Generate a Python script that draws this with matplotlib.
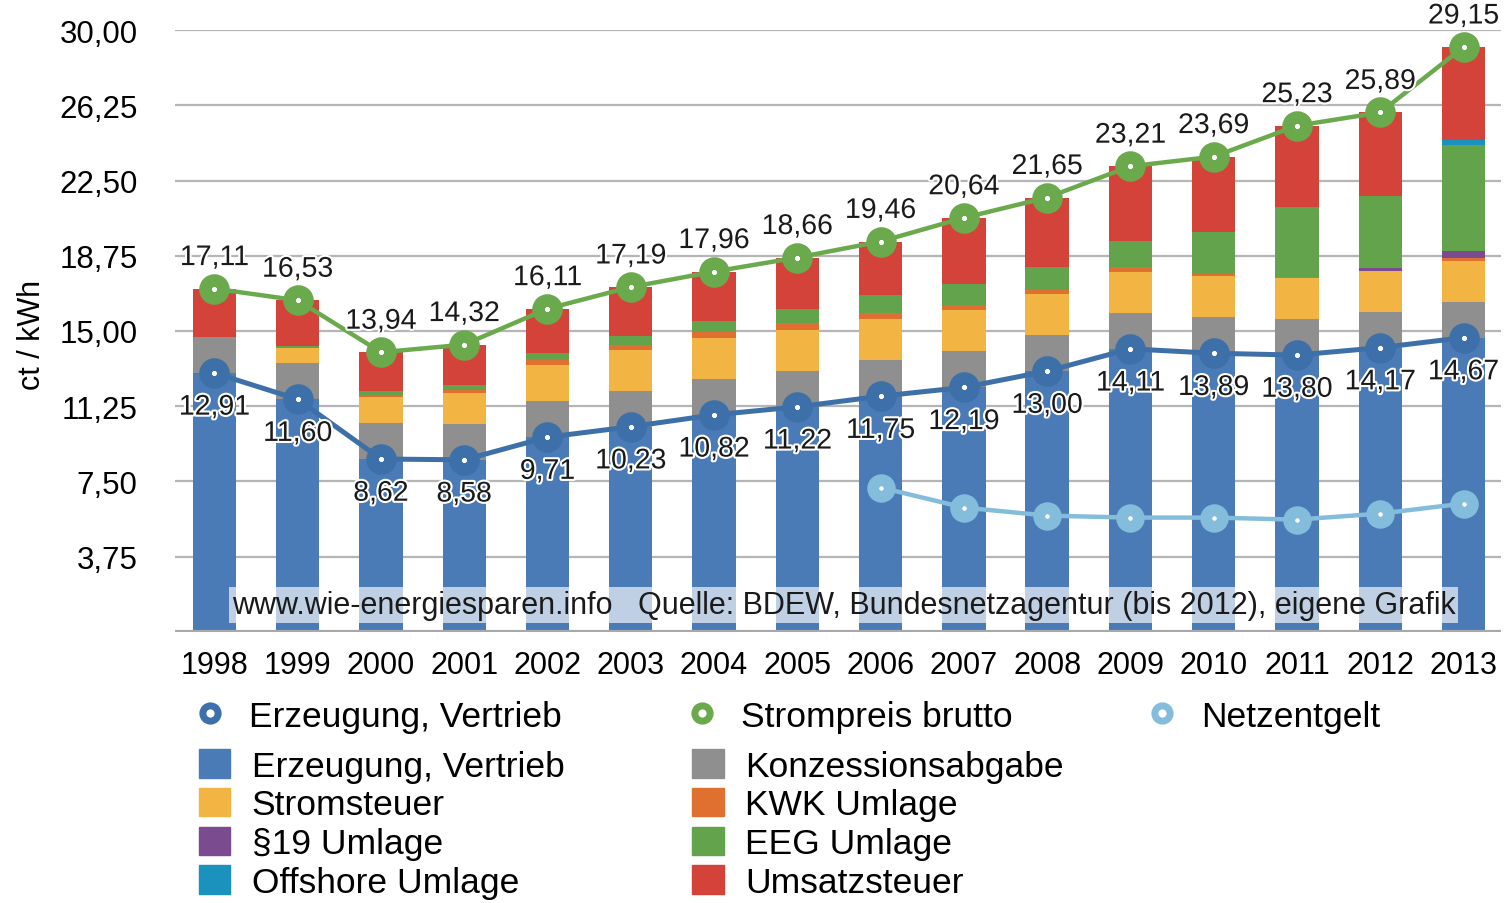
import numpy as np
import matplotlib
matplotlib.use("Agg")
import matplotlib.pyplot as plt
from matplotlib.lines import Line2D
from matplotlib.patches import Patch
import matplotlib.patheffects as pe

plt.rcParams['font.family'] = ['Liberation Sans', 'DejaVu Sans']

years = list(range(1998, 2014))

# Bestandteile des Strompreises (ct/kWh)
erzeugung = [12.91, 11.60, 8.62, 8.58, 9.71, 10.23, 10.82, 11.22, 11.75, 12.19, 13.00, 14.11, 13.89, 13.80, 14.17, 14.67]
konzession = [1.79] * 16
stromsteuer = [0.00, 0.77, 1.28, 1.53, 1.79, 2.05, 2.05, 2.05, 2.05, 2.05, 2.05, 2.05, 2.05, 2.05, 2.05, 2.05]
kwk = [0.00, 0.00, 0.13, 0.17, 0.25, 0.25, 0.31, 0.34, 0.31, 0.29, 0.19, 0.24, 0.13, 0.03, 0.002, 0.13]
par19 = [0, 0, 0, 0, 0, 0, 0, 0, 0, 0, 0, 0, 0, 0, 0.15, 0.33]
eeg = [0.00, 0.08, 0.20, 0.25, 0.35, 0.42, 0.51, 0.69, 0.88, 1.02, 1.16, 1.31, 2.05, 3.53, 3.59, 5.28]
offshore = [0] * 15 + [0.25]
umsatzsteuer = [2.41, 2.29, 1.92, 1.99, 2.22, 2.45, 2.48, 2.57, 2.68, 3.30, 3.46, 3.71, 3.78, 4.03, 4.14, 4.65]

strompreis = [17.11, 16.53, 13.94, 14.32, 16.11, 17.19, 17.96, 18.66, 19.46, 20.64, 21.65, 23.21, 23.69, 25.23, 25.89, 29.15]
netz_years = list(range(2006, 2014))
netzentgelt = [7.20, 6.20, 5.80, 5.70, 5.70, 5.60, 5.90, 6.40]

components = [
    ("Erzeugung, Vertrieb", erzeugung, "#4a7bb7"),
    ("Konzessionsabgabe", konzession, "#8f8f8f"),
    ("Stromsteuer", stromsteuer, "#f2b442"),
    ("KWK Umlage", kwk, "#e07030"),
    ("§19 Umlage", par19, "#7a4b8e"),
    ("EEG Umlage", eeg, "#63a34c"),
    ("Offshore Umlage", offshore, "#1b91bd"),
    ("Umsatzsteuer", umsatzsteuer, "#d3433a"),
]

c_line_blue = "#3d6fa8"
c_line_green = "#6aaa4c"
c_line_light = "#84bcdc"

fig = plt.figure(figsize=(15.04, 9.04), dpi=100)
ax = fig.add_axes([0.1165, 0.2998, 0.8815, 0.6659])

x = np.arange(len(years))
bottom = np.zeros(len(years))
for name, vals, col in components:
    vals = np.array(vals, dtype=float)
    ax.bar(x, vals, width=0.52, bottom=bottom, color=col, zorder=2, linewidth=0)
    bottom += vals

halo = [pe.withStroke(linewidth=3, foreground="white")]

# Linien
ax.plot(x, erzeugung, color=c_line_blue, lw=3.6, marker='o', ms=13, mew=9,
        mfc='white', mec=c_line_blue, zorder=4)
ax.plot(x, strompreis, color=c_line_green, lw=3.2, marker='o', ms=13, mew=9,
        mfc='white', mec=c_line_green, zorder=4)
xn = np.array([years.index(y) for y in netz_years])
ax.plot(xn, netzentgelt, color=c_line_light, lw=3.2, marker='o', ms=12, mew=8.5,
        mfc='white', mec=c_line_light, zorder=4)

def fmt(v):
    return f"{v:.2f}".replace('.', ',')

for xi, v in zip(x, strompreis):
    ax.annotate(fmt(v), (xi, v), xytext=(0, 22), textcoords='offset points',
                ha='center', va='center', fontsize=20.5, color='#1a1a1a',
                path_effects=halo, zorder=6, annotation_clip=False)
for xi, v in zip(x, erzeugung):
    ax.annotate(fmt(v), (xi, v), xytext=(0, -25), textcoords='offset points',
                ha='center', va='center', fontsize=20.5, color='#1a1a1a',
                path_effects=halo, zorder=6)

# Achsen
ax.set_xlim(-0.47, 15.45)
ax.set_ylim(0, 30)
yt = np.arange(1, 9) * 3.75
ax.set_yticks(yt)
ax.set_yticklabels([fmt(v) for v in yt], fontsize=22.5)
ax.set_xticks(x)
ax.set_xticklabels([str(y) for y in years], fontsize=22)
ax.tick_params(axis='y', length=0, pad=27)
ax.tick_params(axis='x', length=0, pad=13)
for s in ax.spines.values():
    s.set_visible(False)
ax.grid(axis='y', color='#b5b5b5', lw=1.6, zorder=0)
ax.set_axisbelow(True)
ax.axhline(0, color='#a8a8a8', lw=3, zorder=3)

fig.text(0.021, 0.63, "ct / kWh", rotation=90, ha='center', va='center', fontsize=22)

ax.text(0.504, 0.045,
        "www.wie-energiesparen.info   Quelle: BDEW, Bundesnetzagentur (bis 2012), eigene Grafik",
        transform=ax.transAxes, ha='center', va='center', fontsize=22, color='#1a1a1a',
        zorder=7, bbox=dict(boxstyle='square,pad=0.1', fc='white', ec='none', alpha=0.65))

# Legenden
def line_handle(col):
    return Line2D([], [], ls='none', marker='o', ms=11, mew=5, mfc='white', mec=col)

leg_kw = dict(frameon=False, fontsize=25.5, loc='upper left', handletextpad=0.6,
              borderaxespad=0, borderpad=0, handlelength=1.0)
fig.legend([line_handle(c_line_blue)], ["Erzeugung, Vertrieb"],
           bbox_to_anchor=(0.128, 0.225), **leg_kw)
fig.legend([line_handle(c_line_green)], ["Strompreis brutto"],
           bbox_to_anchor=(0.455, 0.225), **leg_kw)
fig.legend([line_handle(c_line_light)], ["Netzentgelt"],
           bbox_to_anchor=(0.761, 0.225), **leg_kw)

patches = {name: Patch(color=col) for name, vals, col in components}
col1 = ["Erzeugung, Vertrieb", "Stromsteuer", "§19 Umlage", "Offshore Umlage"]
col2 = ["Konzessionsabgabe", "KWK Umlage", "EEG Umlage", "Umsatzsteuer"]
patch_kw = dict(leg_kw, labelspacing=0.15, handleheight=0.85, handlelength=0.9)
fig.legend([patches[n] for n in col1], col1, bbox_to_anchor=(0.132, 0.170), **patch_kw)
fig.legend([patches[n] for n in col2], col2, bbox_to_anchor=(0.460, 0.170), **patch_kw)

fig.savefig("out.png", dpi=100)
